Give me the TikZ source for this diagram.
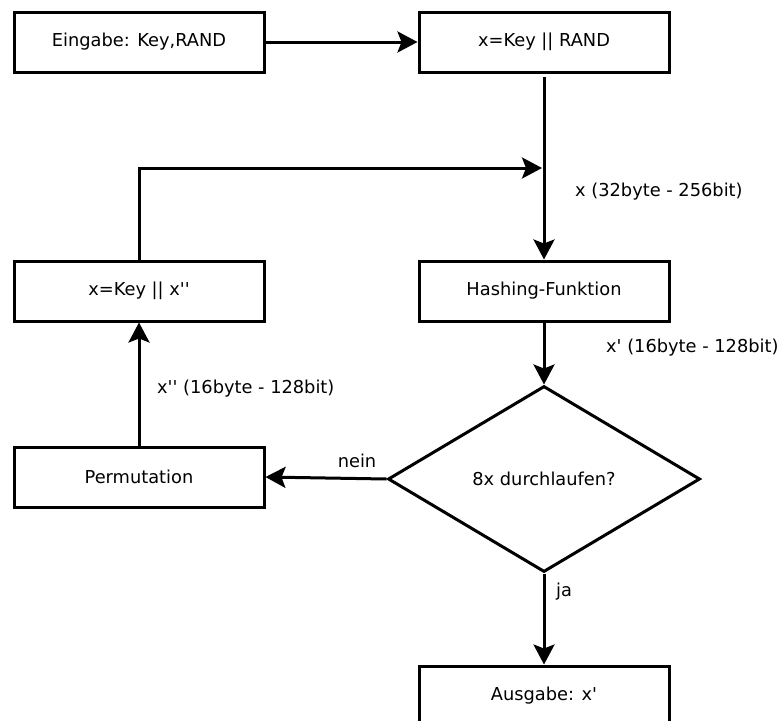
\documentclass[tikz,border=0pt]{standalone}
\usepackage{fontspec}
\setmainfont{DejaVu Sans}[Ligatures=TeXOff]
\usetikzlibrary{arrows.meta,shapes.geometric}
\begin{document}
\begin{tikzpicture}[x=1pt,y=-1pt,
  font=\fontsize{17.8}{21}\selectfont,
  every node/.style={inner sep=0pt},
  box/.style={draw,line width=3pt,minimum width=250pt,minimum height=60pt,anchor=center},
  dec/.style={draw,diamond,line width=3pt,aspect=1.677,minimum width=312pt,minimum height=186pt},
  lbl/.style={anchor=west},
  conn/.style={line width=3pt,-{Stealth[length=20pt,width=21pt,inset=4pt]}},
  plain/.style={line width=3pt}]
\clip (0,0) rectangle (783,720);
\useasboundingbox (0,0) rectangle (783,720);
\node[box] (in) at (139,42) {Eingabe: Key,RAND};
\node[box] (cat) at (544,42) {x=Key || RAND};
\node[box] (hash) at (544,291) {Hashing-Funktion};
\node[box] (xk) at (139,291) {x=Key || x''};
\node[box] (perm) at (139,477) {Permutation};
\node[dec] (d) at (544,479) {8x durchlaufen?};
\node[box] (out) at (544,696) {Ausgabe: x'};
\coordinate (j) at (542,168);
\coordinate (c) at (139,168);
\draw[conn] (in) -- (cat);
\draw[conn,shorten <=3pt] (cat) -- (hash);
\draw[conn] (xk.north) -- (c) -- (j);
\draw[conn] (hash) -- (d);
\draw[conn] (d.west) -- (perm.east);
\draw[conn] (perm) -- (xk);
\draw[conn] (d.south) -- (out);
\node[lbl] (l1) at (575,192) {x (32byte - 256bit)};
\node[lbl] (l2) at (606,348) {x' (16byte - 128bit)};
\node[lbl] (l3) at (157,389) {x'' (16byte - 128bit)};
\node (l4) at (357,461) {nein};
\node[lbl] (l5) at (556,592) {ja};
\end{tikzpicture}
\end{document}
